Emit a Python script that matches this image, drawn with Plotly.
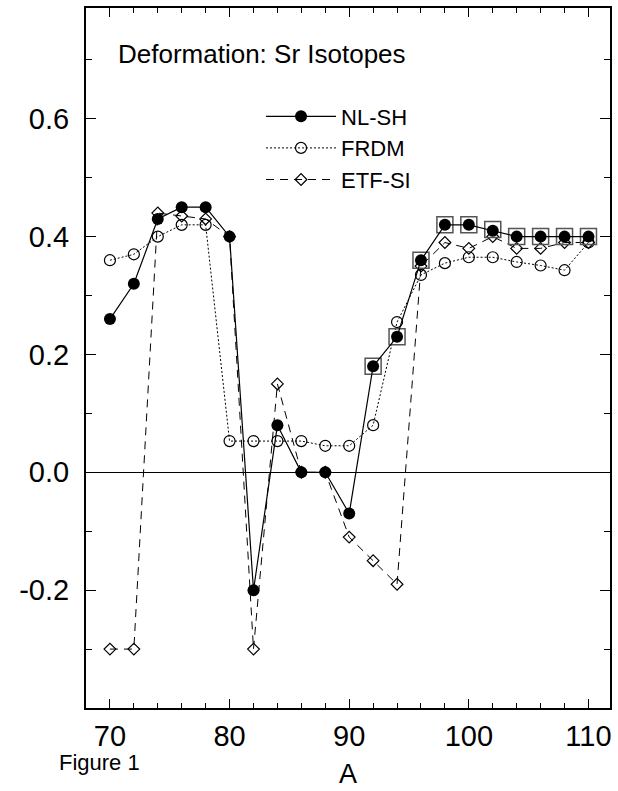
import plotly.graph_objects as go

# Mass number A
A = [70, 72, 74, 76, 78, 80, 82, 84, 86, 88, 90, 92, 94, 96, 98, 100, 102, 104, 106, 108, 110]

# Deformation values per model
nlsh = [0.26, 0.32, 0.43, 0.45, 0.45, 0.40, -0.20, 0.08, 0.00, 0.00, -0.07, 0.18, 0.23, 0.36,
        0.42, 0.42, 0.41, 0.40, 0.40, 0.40, 0.40]
frdm = [0.36, 0.37, 0.40, 0.42, 0.42, 0.053, 0.053, 0.053, 0.053, 0.045, 0.045, 0.08, 0.255, 0.335,
        0.355, 0.365, 0.365, 0.357, 0.351, 0.343, 0.39]
etfsi = [-0.30, -0.30, 0.44, 0.435, 0.43, 0.40, -0.30, 0.15, 0.00, 0.00, -0.11, -0.15, -0.19, 0.35,
         0.39, 0.38, 0.40, 0.38, 0.38, 0.39, 0.39]

# Open squares (highlighted points)
sq_A = [92, 94, 96, 98, 100, 102, 104, 106, 108, 110]
sq_val = [0.18, 0.23, 0.36, 0.42, 0.42, 0.412, 0.40, 0.40, 0.40, 0.40]

x_ticks = [70, 80, 90, 100, 110]
y_ticks = [-0.2, 0.0, 0.2, 0.4, 0.6]
y_ticktext = ["-0.2", "0.0", "0.2", "0.4", "0.6"]

FONT = "Liberation Sans, Arial, sans-serif"

fig = go.Figure()

fig.add_trace(go.Scatter(
    x=A, y=etfsi, mode="lines+markers", name="ETF-SI",
    line=dict(color="black", width=1, dash="8px,6px"),
    marker=dict(symbol="diamond-open", size=9, color="black", line=dict(width=1.2, color="black")),
    legendrank=3, legendgroup="c",
))
fig.add_trace(go.Scatter(
    x=A, y=frdm, mode="lines+markers", name="FRDM",
    line=dict(color="black", width=1, dash="2px,2px"),
    marker=dict(symbol="circle-open", size=11, color="black", line=dict(width=1.2, color="black")),
    legendrank=2, legendgroup="b",
))
fig.add_trace(go.Scatter(
    x=sq_A, y=sq_val, mode="markers", name="squares", showlegend=False,
    marker=dict(symbol="square-open", size=16, color="#555555", line=dict(width=1.5, color="#555555")),
))
fig.add_trace(go.Scatter(
    x=A, y=nlsh, mode="lines+markers", name="NL-SH",
    line=dict(color="black", width=1.2),
    marker=dict(symbol="circle", size=12, color="black"),
    legendrank=1, legendgroup="a",
))

fig.update_xaxes(
    range=[68, 111.8], showgrid=False, zeroline=False,
    showline=True, linecolor="black", linewidth=2, mirror="ticks",
    ticks="inside", ticklen=9, tickwidth=1.2, tickcolor="black",
    tickvals=x_ticks, tickfont=dict(family=FONT, size=29, color="black"),
    minor=dict(dtick=2, ticks="inside", ticklen=5, tickwidth=1, tickcolor="black", showgrid=False),
    ticklabelstandoff=1,
)
fig.update_yaxes(
    range=[-0.4, 0.788], showgrid=False,
    zeroline=True, zerolinecolor="black", zerolinewidth=1,
    showline=True, linecolor="black", linewidth=2, mirror="ticks",
    ticks="inside", ticklen=10, tickwidth=1.2, tickcolor="black",
    tickvals=y_ticks, ticktext=y_ticktext,
    tickfont=dict(family=FONT, size=29, color="black"),
    minor=dict(dtick=0.1, tick0=0, ticks="inside", ticklen=6, tickwidth=1, tickcolor="black", showgrid=False),
    ticklabelstandoff=9,
)

fig.update_layout(
    width=618, height=791,
    margin=dict(l=86, r=6, t=8, b=83),
    plot_bgcolor="white", paper_bgcolor="white",
    font=dict(family=FONT, color="black"),
    showlegend=True,
    legend=dict(
        x=0.334, y=0.875, xanchor="left", yanchor="top",
        font=dict(family=FONT, size=22, color="black"),
        bgcolor="rgba(0,0,0,0)", itemwidth=70, tracegroupgap=0,
    ),
    annotations=[
        dict(text="Deformation: Sr Isotopes", xref="paper", yref="paper", x=0.058, y=0.934,
             xanchor="left", yanchor="middle", showarrow=False,
             font=dict(family=FONT, size=26, color="black")),
        dict(text="A", xref="paper", yref="paper", x=0.5, y=-0.094,
             xanchor="center", yanchor="middle", showarrow=False,
             font=dict(family=FONT, size=27, color="black")),
        dict(text="Figure 1", xref="paper", yref="paper", x=-0.056, y=-0.078,
             xanchor="left", yanchor="middle", showarrow=False,
             font=dict(family=FONT, size=22, color="black")),
    ],
)

fig.write_html("out.html", post_script="document.body.style.margin='0px';",
               config={"displayModeBar": False})
